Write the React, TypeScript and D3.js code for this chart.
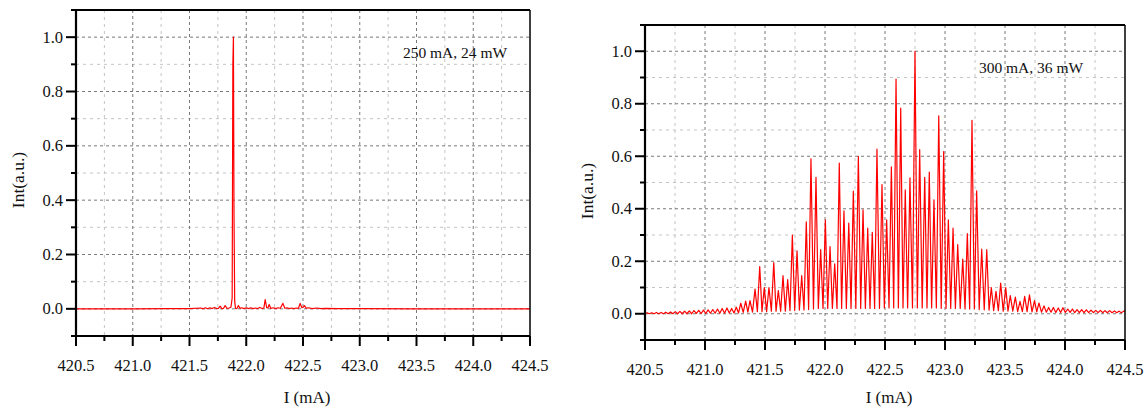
import React, { useEffect, useRef } from 'react';
import * as d3 from 'd3';

// ---- data ----
const xMajor = [420.5, 421.0, 421.5, 422.0, 422.5, 423.0, 423.5, 424.0, 424.5];
const xMinor = [420.75, 421.25, 421.75, 422.25, 422.75, 423.25, 423.75, 424.25];
const yMajor = [0.0, 0.2, 0.4, 0.6, 0.8, 1.0];
const yMinor = [-0.1, 0.1, 0.3, 0.5, 0.7, 0.9, 1.1];

// 250 mA spectrum: [wavelength, intensity]
const leftSpectrum: [number, number][] = [
  [420.5, 0], [421.0, 0], [421.3, 0.001], [421.5, 0.001], [421.6, 0.003], [421.62, 0],
  [421.64, 0.004], [421.66, 0], [421.68, 0.004], [421.7, 0.001], [421.72, 0.005], [421.74, 0.001],
  [421.755, 0.002], [421.77, 0.01], [421.785, 0.001], [421.8, 0.002], [421.814, 0.012], [421.83, 0.002],
  [421.85, 0.003], [421.865, 0.006], [421.876, 0.04], [421.882, 0.9], [421.887, 1.0], [421.892, 0.35],
  [421.898, 0.03], [421.905, 0.002], [421.918, 0.001], [421.931, 0.012], [421.945, 0.002], [421.96, 0.004],
  [421.98, 0.001], [422.0, 0.004], [422.02, 0.001], [422.04, 0.004], [422.06, 0.001], [422.08, 0.003],
  [422.1, 0.001], [422.12, 0.005], [422.14, 0.001], [422.155, 0.003], [422.167, 0.034], [422.18, 0.004],
  [422.19, 0.003], [422.202, 0.016], [422.215, 0.002], [422.24, 0.004], [422.26, 0.001], [422.28, 0.004],
  [422.3, 0.002], [422.323, 0.02], [422.34, 0.002], [422.36, 0.004], [422.38, 0.001], [422.4, 0.003],
  [422.42, 0.001], [422.44, 0.003], [422.46, 0.002], [422.475, 0.02], [422.49, 0.004], [422.5, 0.005],
  [422.513, 0.012], [422.53, 0.002], [422.55, 0.004], [422.58, 0.001], [422.62, 0.003], [422.66, 0.001],
  [422.7, 0.002], [422.8, 0.001], [423.0, 0.001], [423.5, 0], [424.5, 0],
];

// 300 mA spectrum: mode peaks [wavelength, intensity]
const rightPeaks: [number, number][] = [
  [420.517, 0.004], [420.556, 0.004], [420.595, 0.005], [420.634, 0.005], [420.673, 0.006],
  [420.713, 0.007], [420.752, 0.008], [420.791, 0.009], [420.83, 0.01], [420.869, 0.011],
  [420.908, 0.012], [420.948, 0.013], [420.987, 0.014], [421.026, 0.015], [421.065, 0.016],
  [421.104, 0.018], [421.143, 0.02], [421.183, 0.022], [421.222, 0.02], [421.261, 0.025],
  [421.298, 0.04], [421.339, 0.048], [421.375, 0.05], [421.417, 0.094], [421.456, 0.18],
  [421.494, 0.1], [421.533, 0.1], [421.573, 0.195], [421.611, 0.088], [421.65, 0.145],
  [421.689, 0.13], [421.728, 0.3], [421.767, 0.24], [421.806, 0.145], [421.844, 0.35],
  [421.883, 0.59], [421.925, 0.52], [421.964, 0.244], [422.003, 0.358], [422.042, 0.256],
  [422.081, 0.19], [422.119, 0.574], [422.158, 0.392], [422.198, 0.345], [422.236, 0.467],
  [422.278, 0.6], [422.317, 0.396], [422.356, 0.326], [422.394, 0.31], [422.433, 0.627],
  [422.475, 0.492], [422.514, 0.358], [422.553, 0.56], [422.592, 0.894], [422.631, 0.783],
  [422.669, 0.472], [422.708, 0.518], [422.75, 1.0], [422.789, 0.625], [422.831, 0.52],
  [422.869, 0.54], [422.908, 0.434], [422.948, 0.754], [422.989, 0.618], [423.028, 0.358],
  [423.067, 0.326], [423.106, 0.263], [423.148, 0.208], [423.186, 0.305], [423.225, 0.737],
  [423.264, 0.468], [423.306, 0.246], [423.348, 0.244], [423.386, 0.1], [423.425, 0.085],
  [423.464, 0.117], [423.506, 0.1], [423.544, 0.069], [423.586, 0.063], [423.625, 0.047],
  [423.664, 0.066], [423.704, 0.072], [423.746, 0.05], [423.783, 0.041], [423.825, 0.03],
  [423.864, 0.024], [423.903, 0.024], [423.944, 0.022], [423.983, 0.023], [424.023, 0.018],
  [424.062, 0.018], [424.1, 0.016], [424.139, 0.016], [424.178, 0.015], [424.217, 0.014],
  [424.256, 0.013], [424.295, 0.013], [424.333, 0.012], [424.372, 0.012], [424.412, 0.011],
  [424.45, 0.01], [424.489, 0.01],
];
// minimum between consecutive peaks
const rightTroughs = [
  0, 0, 0, 0, 0, 0, 0, 0, 0, 0,
  0.001, 0.001, 0.001, 0.002, 0.002, 0.002, 0.002, 0.003, 0.003, 0.003,
  0.005, 0.006, 0.006, 0.008, 0.008, 0.008, 0.01, 0.01, 0.01, 0.01,
  0.012, 0.012, 0.014, 0.014, 0.016, 0.018, 0.02, 0.02, 0.02, 0.02,
  0.02, 0.02, 0.02, 0.02, 0.02, 0.02, 0.02, 0.02, 0.02, 0.02,
  0.022, 0.022, 0.022, 0.022, 0.022, 0.022, 0.022, 0.022, 0.022, 0.022,
  0.022, 0.022, 0.02, 0.02, 0.02, 0.02, 0.02, 0.018, 0.018, 0.018,
  0.016, 0.015, 0.014, 0.012, 0.012, 0.01, 0.01, 0.01, 0.008, 0.008,
  0.008, 0.007, 0.007, 0.006, 0.006, 0.006, 0.005, 0.005, 0.005, 0.005,
  0.004, 0.004, 0.004, 0.004, 0.004, 0.004, 0.004, 0.004, 0.004, 0.004,
  0.004,
];

const FONT = '"Liberation Serif", "Times New Roman", serif';

function peaksToLine(peaks: [number, number][], troughs: number[]): [number, number][] {
  const pts: [number, number][] = [[420.5, 0]];
  peaks.forEach((p, i) => {
    pts.push(p);
    if (i < peaks.length - 1) pts.push([(p[0] + peaks[i + 1][0]) / 2, troughs[i]]);
  });
  pts.push([424.5, 0.008]);
  return pts;
}

type PanelBox = { x0: number; x1: number; y0: number; y1: number; yLabelY: number; xLabelX: number; legendX: number; legendY: number };

function drawPanel(root: d3.Selection<SVGGElement, unknown, null, undefined>, box: PanelBox, data: [number, number][], legend: string) {
  const x = d3.scaleLinear().domain([420.5, 424.5]).range([box.x0, box.x1]);
  const y = d3.scaleLinear().domain([-0.1, 1.1]).range([box.y1, box.y0]);
  const g = root.append('g');

  // grid
  xMinor.forEach(v => g.append('line').attr('x1', x(v)).attr('x2', x(v)).attr('y1', box.y0).attr('y2', box.y1)
    .attr('stroke', '#c4c4c4').attr('stroke-width', 1).attr('stroke-dasharray', '3,4'));
  yMinor.filter(v => v > -0.1 && v < 1.1).forEach(v => g.append('line').attr('x1', box.x0).attr('x2', box.x1).attr('y1', y(v)).attr('y2', y(v))
    .attr('stroke', '#c4c4c4').attr('stroke-width', 1).attr('stroke-dasharray', '3,4'));
  xMajor.slice(1, -1).forEach(v => g.append('line').attr('x1', x(v)).attr('x2', x(v)).attr('y1', box.y0).attr('y2', box.y1)
    .attr('stroke', '#7a7a7a').attr('stroke-width', 1).attr('stroke-dasharray', '3,3'));
  yMajor.forEach(v => g.append('line').attr('x1', box.x0).attr('x2', box.x1).attr('y1', y(v)).attr('y2', y(v))
    .attr('stroke', '#7a7a7a').attr('stroke-width', 1).attr('stroke-dasharray', '3,3'));

  // spectrum
  const line = d3.line<[number, number]>().x(d => x(d[0])).y(d => y(d[1]));
  g.append('path').attr('d', line(data)).attr('fill', 'none').attr('stroke', '#ff0000').attr('stroke-width', 1.2)
    .attr('stroke-linejoin', 'round');

  // frame
  g.append('line').attr('x1', box.x0).attr('x2', box.x1).attr('y1', box.y0).attr('y2', box.y0).attr('stroke', '#000').attr('stroke-width', 2);
  g.append('line').attr('x1', box.x1).attr('x2', box.x1).attr('y1', box.y0).attr('y2', box.y1).attr('stroke', '#000').attr('stroke-width', 1.5);
  g.append('line').attr('x1', box.x0).attr('x2', box.x0).attr('y1', box.y0 - 1).attr('y2', box.y1 + 1).attr('stroke', '#000').attr('stroke-width', 2.2);
  g.append('line').attr('x1', box.x0 - 1).attr('x2', box.x1).attr('y1', box.y1).attr('y2', box.y1).attr('stroke', '#000').attr('stroke-width', 2.2);

  // ticks
  xMajor.forEach(v => g.append('line').attr('x1', x(v)).attr('x2', x(v)).attr('y1', box.y1).attr('y2', box.y1 + 10).attr('stroke', '#000').attr('stroke-width', 2));
  xMinor.forEach(v => g.append('line').attr('x1', x(v)).attr('x2', x(v)).attr('y1', box.y1).attr('y2', box.y1 + 5).attr('stroke', '#000').attr('stroke-width', 2));
  yMajor.forEach(v => g.append('line').attr('x1', box.x0 - 10).attr('x2', box.x0).attr('y1', y(v)).attr('y2', y(v)).attr('stroke', '#000').attr('stroke-width', 2));
  yMinor.forEach(v => g.append('line').attr('x1', box.x0 - 5).attr('x2', box.x0).attr('y1', y(v)).attr('y2', y(v)).attr('stroke', '#000').attr('stroke-width', 2));

  // tick labels
  xMajor.forEach(v => g.append('text').attr('x', x(v)).attr('y', box.y1 + 35).attr('text-anchor', 'middle')
    .style('font-family', FONT).style('font-size', '16.5px').attr('fill', '#111').text(v.toFixed(1)));
  yMajor.forEach(v => g.append('text').attr('x', box.x0 - 13).attr('y', y(v) + 5.5).attr('text-anchor', 'end')
    .style('font-family', FONT).style('font-size', '16.5px').attr('fill', '#111').text(v.toFixed(1)));

  // titles
  g.append('text').attr('x', box.xLabelX).attr('y', 403).attr('text-anchor', 'middle')
    .style('font-family', FONT).style('font-size', '17px').attr('fill', '#111').text('I (mA)');
  g.append('text').attr('transform', `translate(${box.x0 - 52},${box.yLabelY}) rotate(-90)`).attr('text-anchor', 'middle')
    .style('font-family', FONT).style('font-size', '17.5px').attr('fill', '#111').text('Int(a.u.)');
  g.append('text').attr('x', box.legendX).attr('y', box.legendY).attr('text-anchor', 'middle')
    .style('font-family', FONT).style('font-size', '15.5px').attr('fill', '#111').text(legend);
}

export default function App() {
  const ref = useRef<SVGSVGElement>(null);
  useEffect(() => {
    if (!ref.current) return;
    const svg = d3.select(ref.current);
    svg.selectAll('*').remove();
    const root = svg.append('g');
    drawPanel(root, { x0: 76, x1: 530, y0: 10, y1: 336, yLabelY: 180, xLabelX: 307, legendX: 455, legendY: 58 },
      leftSpectrum, '250 mA, 24 mW');
    drawPanel(root, { x0: 645, x1: 1125, y0: 25, y1: 340, yLabelY: 191, xLabelX: 889, legendX: 1031, legendY: 73 },
      peaksToLine(rightPeaks, rightTroughs), '300 mA, 36 mW');
  }, []);
  return (
    <svg ref={ref} width={1147} height={409} style={{ position: 'absolute', left: 0, top: 0, background: '#fff' }} />
  );
}
